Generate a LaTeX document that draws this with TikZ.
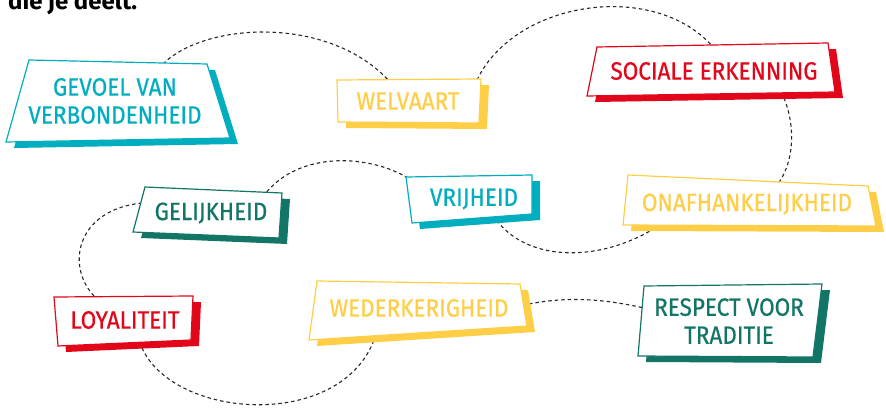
\documentclass[tikz,border=0pt]{standalone}
\usepackage{fontspec}
\setmainfont{Fira Sans}
\newfontfamily\lblfont{Fira Sans}[FakeStretch=0.9,FakeBold=0.6]
\definecolor{tcyan}{HTML}{00AEBF}
\definecolor{tyellow}{HTML}{FFCE47}
\definecolor{tred}{HTML}{E2061A}
\definecolor{tgreen}{HTML}{137566}
\tikzset{
  lbl/.style={font=\lblfont\fontsize{25}{28}\selectfont, align=center, inner sep=0pt},
  link/.style={dash pattern=on 3.5pt off 3pt, line width=1.1pt, black!85},
}
\newcommand\tagbox[5]{%
  \fill[#1,shift={(8,6)}] #2 -- #3 -- #4 -- #5 -- cycle;
  \filldraw[fill=white,draw=#1,line width=1.2pt] #2 -- #3 -- #4 -- #5 -- cycle;
}
\begin{document}
\begin{tikzpicture}[x=1pt,y=-1pt]
\useasboundingbox (0,0) rectangle (886,414);
\node[anchor=base west, inner sep=0pt, font=\fontsize{24}{26}\selectfont\bfseries] (title) at (8,10) {die je deelt.};
% connector endpoints
\coordinate (gv-o) at (163,64);
\coordinate (wv-i) at (390,82);
\coordinate (wv-o) at (477,80);
\coordinate (se-i) at (713,47);
\coordinate (se-o) at (784,98);
\coordinate (on-i) at (778,184);
\coordinate (on-o) at (655,228);
\coordinate (vr-i) at (498,222);
\coordinate (vr-o) at (408,178);
\coordinate (ge-i) at (265,194);
\coordinate (ge-o) at (142,203);
\coordinate (lo-i) at (96,298);
\coordinate (lo-o) at (142,348);
\coordinate (we-i) at (374,340);
\coordinate (we-o) at (529,304);
\coordinate (re-i) at (644,308);
% connectors
\draw[link] (gv-o) .. controls (205,22) and (330,15) .. (wv-i);
\draw[link] (wv-o) .. controls (515,0) and (655,-20) .. (se-i);
\draw[link] (se-o) .. controls (795,125) and (795,160) .. (on-i);
\draw[link] (on-o) .. controls (600,262) and (530,262) .. (vr-i);
\draw[link] (vr-o) .. controls (370,155) and (300,150) .. (ge-i);
\draw[link] (ge-o) .. controls (75,210) and (65,268) .. (lo-i);
\draw[link] (lo-o) .. controls (175,420) and (340,430) .. (we-i);
\draw[link] (we-o) .. controls (565,297) and (600,298) .. (re-i);
% boxes
\tagbox{tcyan}{(29,60)}{(207,64)}{(230,138)}{(6,142)}
\tagbox{tyellow}{(337,80)}{(481,79)}{(479,123)}{(338,122)}
\tagbox{tred}{(597,47)}{(828,43)}{(835,92)}{(587,96)}
\tagbox{tyellow}{(628,175)}{(868,186)}{(876,226)}{(623,225)}
\tagbox{tgreen}{(145,187)}{(282,193)}{(279,238)}{(133,232)}
\tagbox{tred}{(54,297)}{(193,296)}{(191,340)}{(58,346)}
\tagbox{tcyan}{(406,177)}{(532,175)}{(532,214)}{(412,223)}
\tagbox{tyellow}{(317,281)}{(520,284)}{(527,326)}{(309,340)}
\tagbox{tgreen}{(644,286)}{(822,284)}{(813,357)}{(638,356)}
% labels
\node[lbl, text=tcyan] (gevoel) at (115,101) {GEVOEL VAN\\VERBONDENHEID};
\node[lbl, text=tyellow] (welvaart) at (408,101) {WELVAART};
\node[lbl, text=tred] (sociale) at (714,71) {SOCIALE ERKENNING};
\node[lbl, text=tyellow] (onafh) at (747,204) {ONAFHANKELIJKHEID};
\node[lbl, text=tgreen] (gelijk) at (211,213) {GELIJKHEID};
\node[lbl, text=tred] (loyal) at (125,320) {LOYALITEIT};
\node[lbl, text=tcyan] (vrij) at (474,199) {VRIJHEID};
\node[lbl, text=tyellow] (weder) at (419,308) {WEDERKERIGHEID};
\node[lbl, text=tgreen] (respect) at (729,321) {RESPECT VOOR\\TRADITIE};
\end{tikzpicture}
\end{document}
